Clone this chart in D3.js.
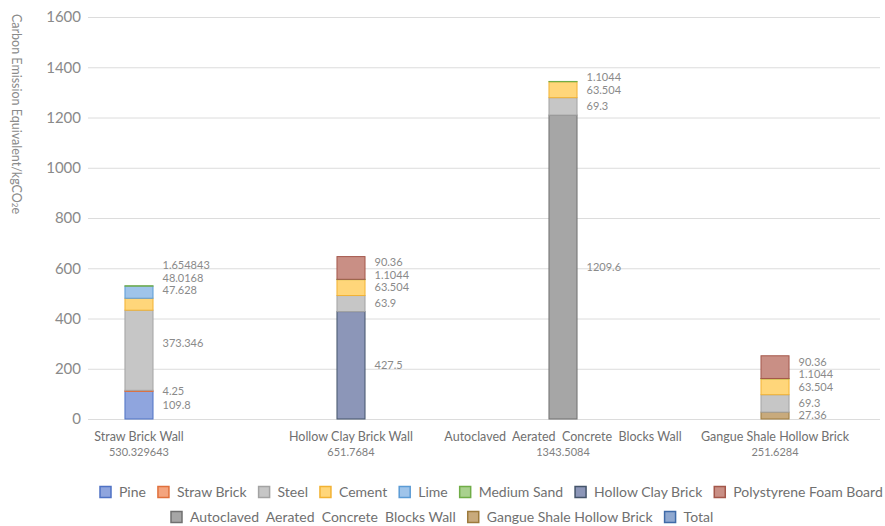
<!DOCTYPE html>
<html>
<head>
<meta charset="utf-8">
<script src="https://cdn.jsdelivr.net/npm/d3@7"></script>
<style>
  body { margin: 0; background: #fff; }
  text { font-family: Lato, "Liberation Sans", sans-serif; }
</style>
</head>
<body>
<div id="chart"></div>
<script>
// categories and totals printed under the axis
const categories = ["Straw Brick Wall", "Hollow Clay Brick Wall", "Autoclaved  Aerated  Concrete  Blocks Wall", "Gangue Shale Hollow Brick"];
const totals = ["530.329643", "651.7684", "1343.5084", "251.6284"];
const yTicks = [0, 200, 400, 600, 800, 1000, 1200, 1400, 1600];

// series values (per category)
const pine = [109.8, 0, 0, 0];
const strawBrick = [4.25, 0, 0, 0];
const hollowClay = [0, 427.5, 0, 0];
const aac = [0, 0, 1209.6, 0];
const gangue = [0, 0, 0, 27.36];
const steel = [318.98, 63.9, 69.3, 69.3];        // height as drawn
const steelLabel = [373.346, 63.9, 69.3, 69.3];  // value as printed
const cement = [47.628, 63.504, 63.504, 63.504];
const lime = [48.0168, 0, 0, 0];
const sand = [1.654843, 1.1044, 1.1044, 1.1044];
const foam = [0, 90.36, 0, 90.36];

const series = [
  { name: "Pine", values: pine, fill: "#8fa5de", stroke: "#4f72c4" },
  { name: "Straw Brick", values: strawBrick, fill: "#f4a47e", stroke: "#e0703c" },
  { name: "Hollow Clay Brick", values: hollowClay, fill: "#8c96b8", stroke: "#44546a" },
  { name: "Autoclaved  Aerated  Concrete  Blocks Wall", values: aac, fill: "#a6a6a6", stroke: "#707070" },
  { name: "Gangue Shale Hollow Brick", values: gangue, fill: "#c8aa7c", stroke: "#9c7a3c" },
  { name: "Steel", values: steel, labels: steelLabel, fill: "#c6c6c6", stroke: "#a3a3a3" },
  { name: "Cement", values: cement, fill: "#ffd67a", stroke: "#f2b233" },
  { name: "Lime", values: lime, fill: "#9fc4ea", stroke: "#5b9bd5" },
  { name: "Medium Sand", values: sand, fill: "#a9d18e", stroke: "#70ad47" },
  { name: "Polystyrene Foam Board", values: foam, fill: "#c98f85", stroke: "#a4574a" }
];
const totalStyle = { name: "Total", fill: "#8fa8d0", stroke: "#3f6aa8" };

const legendRows = [
  ["Pine", "Straw Brick", "Steel", "Cement", "Lime", "Medium Sand", "Hollow Clay Brick", "Polystyrene Foam Board"],
  ["Autoclaved  Aerated  Concrete  Blocks Wall", "Gangue Shale Hollow Brick", "Total"]
];

const W = 885, H = 526;
const svg = d3.select("#chart").append("svg")
  .attr("width", W)
  .attr("height", H);

const y = d3.scaleLinear().domain([0, 1600]).range([419, 17]);
const x = d3.scaleBand().domain(categories).range([88, 826])
  .paddingInner(0.863).paddingOuter(0.172);

// grid + y axis
const yAxis = d3.axisLeft(y).tickValues(yTicks).tickFormat(d3.format("d"))
  .tickSize(-(880 - 88)).tickPadding(7);
const gy = svg.append("g").attr("transform", "translate(88,0)").call(yAxis);
gy.select(".domain").remove();
gy.selectAll(".tick line").attr("stroke", "#dcdcdc");
gy.selectAll(".tick text").attr("fill", "#8a8a8a").style("font-size", "15px");

// y title
svg.append("text")
  .attr("transform", "translate(12,14) rotate(90)")
  .attr("fill", "#8a8a8a")
  .style("font-size", "12.5px")
  .html('Carbon Emission Equivalent/kgCO<tspan style="font-size:8px">2</tspan>e');

// stacks
const table = categories.map((c, i) => {
  const row = { cat: c };
  series.forEach(s => row[s.name] = s.values[i]);
  return row;
});
const labelTable = categories.map((c, i) => {
  const row = { cat: c };
  series.forEach(s => row[s.name] = (s.labels || s.values)[i]);
  return row;
});
const keys = series.map(s => s.name);
const stacked = d3.stack().keys(keys)(table);
const labelStacked = d3.stack().keys(keys)(labelTable);

const bars = svg.append("g");
stacked.forEach((layer, li) => {
  const s = series[li];
  bars.selectAll(null)
    .data(layer.filter(d => d[1] - d[0] > 0))
    .enter().append("rect")
    .attr("x", d => x(d.data.cat) + 0.5)
    .attr("width", x.bandwidth() - 1)
    .attr("y", d => y(d[1]))
    .attr("height", d => y(d[0]) - y(d[1]))
    .attr("fill", s.fill)
    .attr("stroke", s.stroke)
    .attr("stroke-width", 1);
});

// data labels: mid of each printed segment, pushed up to avoid overlap
categories.forEach((c, i) => {
  const items = [];
  labelStacked.forEach((layer, li) => {
    const d = layer[i];
    if (d[1] - d[0] > 0) {
      const s = series[li];
      items.push({ text: String((s.labels || s.values)[i]), yy: y((d[0] + d[1]) / 2) });
    }
  });
  for (let k = 1; k < items.length; k++) {
    items[k].yy = Math.min(items[k].yy, items[k - 1].yy - 12.5);
  }
  svg.append("g").selectAll("text")
    .data(items).enter().append("text")
    .attr("x", x(c) + x.bandwidth() + 9)
    .attr("y", d => d.yy)
    .attr("dy", "0.35em")
    .attr("fill", "#8a8a8a")
    .style("font-size", "11px")
    .text(d => d.text);
});

// category labels + totals
const cx = c => x(c) + x.bandwidth() / 2;
svg.append("g").selectAll("text")
  .data(categories).enter().append("text")
  .attr("x", cx).attr("y", 441)
  .attr("text-anchor", "middle")
  .attr("fill", "#707070")
  .style("font-size", "12.5px")
  .style("white-space", "pre")
  .text(d => d);
svg.append("g").selectAll("text")
  .data(categories).enter().append("text")
  .attr("x", cx).attr("y", 456)
  .attr("text-anchor", "middle")
  .attr("fill", "#808080")
  .style("font-size", "11px")
  .text((d, i) => totals[i]);

// legend
const styleOf = name => series.find(s => s.name === name) || totalStyle;
const rowStart = [100, 171];
legendRows.forEach((row, r) => {
  const cy = 492 + r * 25;
  let px = rowStart[r];
  row.forEach(name => {
    const st = styleOf(name);
    svg.append("rect")
      .attr("x", px).attr("y", cy - 5.5)
      .attr("width", 11).attr("height", 11)
      .attr("fill", st.fill).attr("stroke", st.stroke).attr("stroke-width", 1.5);
    const t = svg.append("text")
      .attr("x", px + 19).attr("y", cy)
      .attr("dy", "0.35em")
      .attr("fill", "#707070")
      .style("font-size", "14px")
      .style("white-space", "pre")
      .text(name);
    px += 19 + t.node().getComputedTextLength() + 12;
  });
});
</script>
</body>
</html>
